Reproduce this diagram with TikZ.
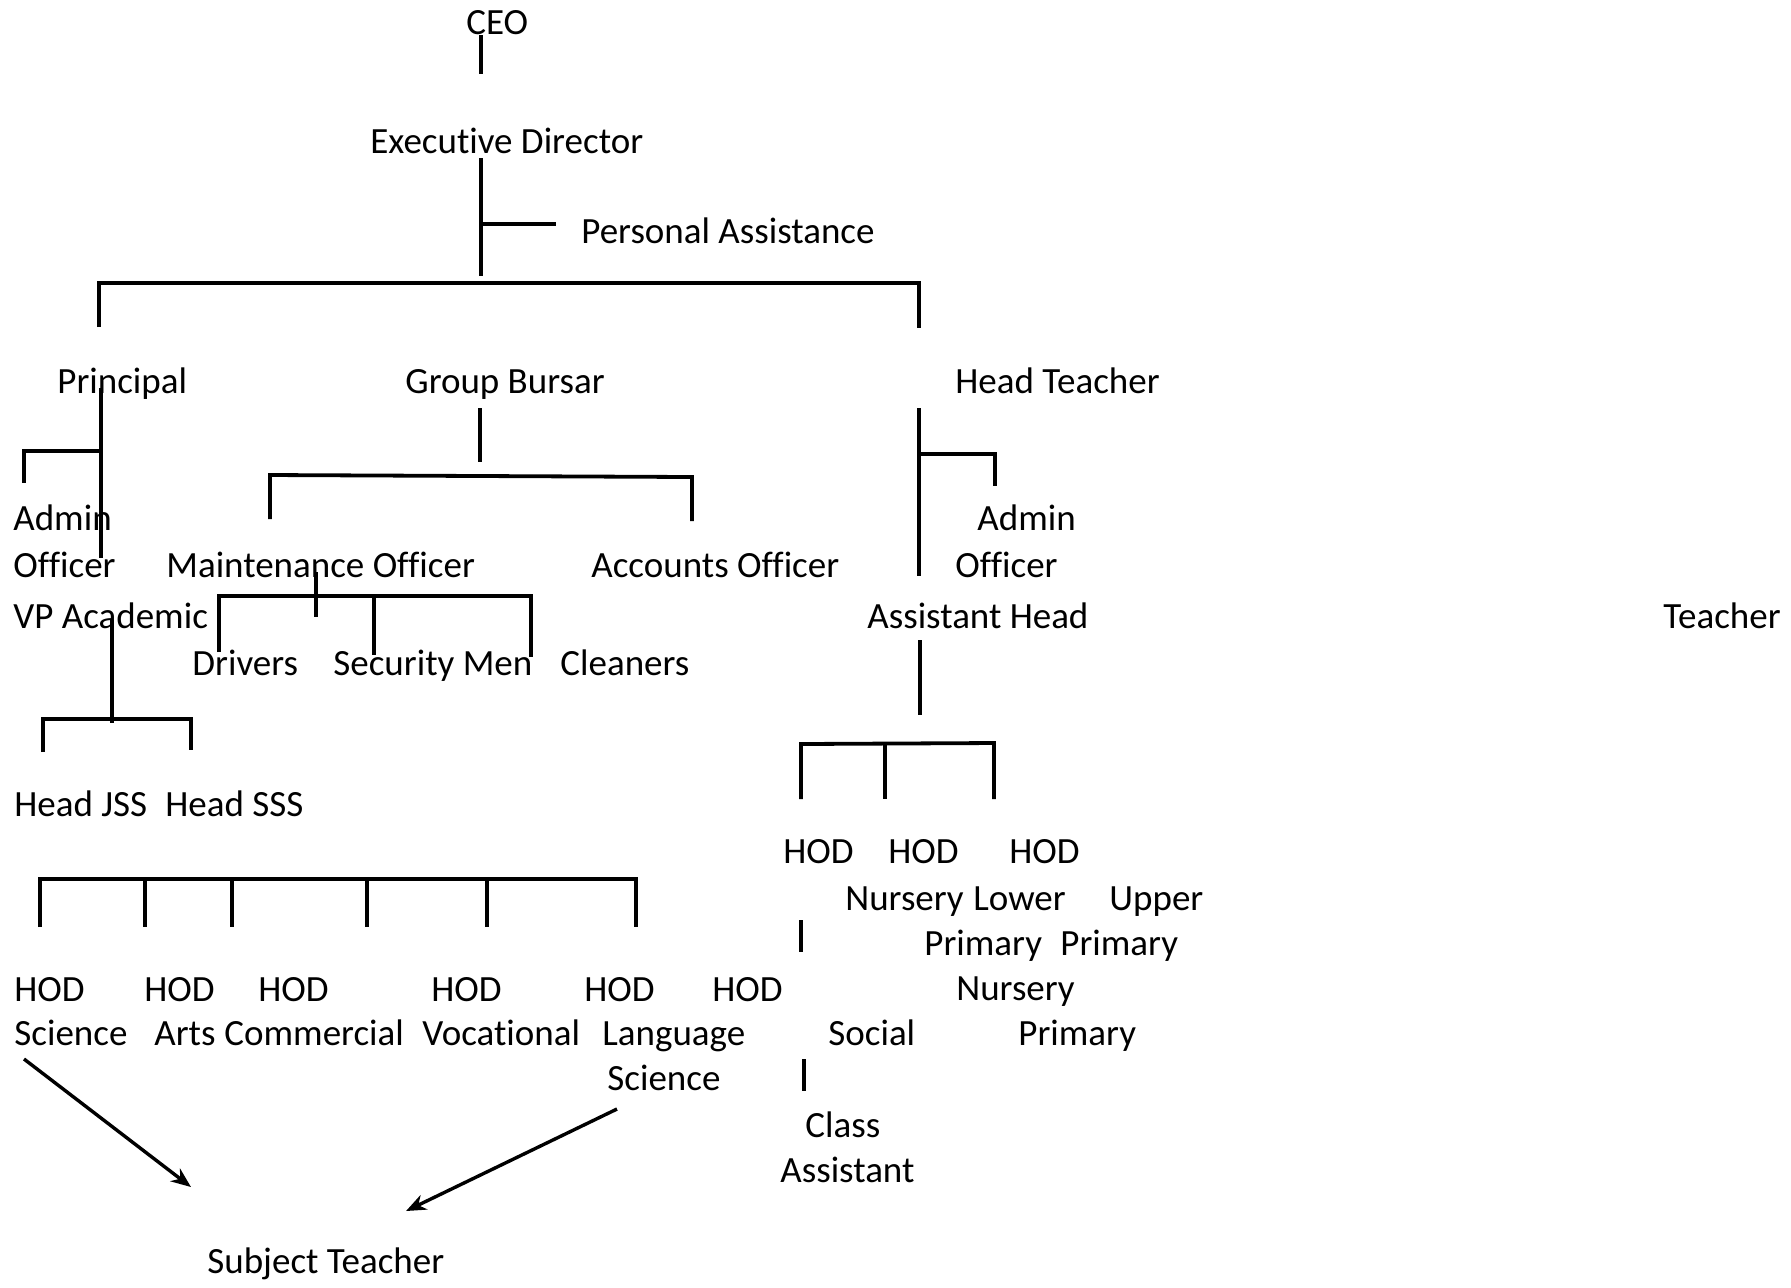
\documentclass[tikz,border=0pt]{standalone}
\usepackage{fontspec}
\setmainfont{Carlito}[Ligatures=NoCommon]
\usetikzlibrary{arrows.meta}

\tikzset{
    lbl/.style={anchor=base west,inner sep=0pt,font=\fontsize{18.5}{22}\selectfont},
    stem/.style={line width=1.7pt},
    bar/.style={line width=1.9pt}
}

\begin{document}
\begin{tikzpicture}[x=0.5pt,y=-0.5pt,>={Stealth[length=10pt,width=8pt]}]
\useasboundingbox (0,0) rectangle (1791,1287);

% top
\node[lbl] (ceo) at (466,34) {CEO};
\node[lbl] (ed) at (370,153) {Executive Director};
\node[lbl] (pa) at (581,243) {Personal Assistance};

\node[lbl] (prin) at (57,393) {Principal};
\node[lbl] (bursar) at (405,393) {Group Bursar};
\node[lbl] (headT) at (955,393) {Head Teacher};

% principal side
\node[lbl] (adminA) at (13,530) {Admin};
\node[lbl] (offA) at (13,577) {Officer};
\node[lbl] (vp) at (13,628) {VP Academic};
\node[lbl] (hjss) at (14,816) {Head JSS};
\node[lbl] (hsss) at (165,816) {Head SSS};

% bursar side
\node[lbl] (maint) at (166,577) {Maintenance Officer};
\node[lbl] (acc) at (591,577) {Accounts Officer};
\node[lbl] (drv) at (192,675) {Drivers};
\node[lbl] (sec) at (333,675) {Security Men};
\node[lbl] (cln) at (560,675) {Cleaners};

% head teacher side
\node[lbl] (adminB) at (977,530) {Admin};
\node[lbl] (offB) at (955,577) {Officer};
\node[lbl] (asst) at (867,628) {Assistant Head};
\node[lbl] (teach) at (1663,628) {Teacher};

\node[lbl] (hodN) at (783,863) {HOD};
\node[lbl] (hodL) at (888,863) {HOD};
\node[lbl] (hodU) at (1009,863) {HOD};
\node[lbl] (nurs) at (845,910) {Nursery};
\node[lbl] (lower) at (973,910) {Lower};
\node[lbl] (upper) at (1109,910) {Upper};
\node[lbl] (primL) at (924,955) {Primary};
\node[lbl] (primU) at (1060,955) {Primary};
\node[lbl] (nursB) at (956,1000) {Nursery};
\node[lbl] (primB) at (1018,1045) {Primary};
\node[lbl] (cls) at (805,1137) {Class};
\node[lbl] (clsA) at (780,1182) {Assistant};

% HOD row
\node[lbl] (hod1) at (14,1001) {HOD};
\node[lbl] (hod2) at (144,1001) {HOD};
\node[lbl] (hod3) at (258,1001) {HOD};
\node[lbl] (hod4) at (431,1001) {HOD};
\node[lbl] (hod5) at (584,1001) {HOD};
\node[lbl] (hod6) at (712,1001) {HOD};
\node[lbl] (sci) at (14,1045) {Science};
\node[lbl] (arts) at (154,1045) {Arts};
\node[lbl] (comm) at (224,1045) {Commercial};
\node[lbl] (voc) at (422,1045) {Vocational};
\node[lbl] (lang) at (602,1045) {Language};
\node[lbl] (social) at (828,1045) {Social};
\node[lbl] (sciB) at (607,1090) {Science};
\node[lbl] (subj) at (207,1273) {Subject Teacher};

% connector points
\coordinate (ceoS) at (481,35);    \coordinate (edN) at (481,74);
\coordinate (edS) at (481,158);    \coordinate (topJ) at (481,276);
\coordinate (paJ) at (481,224);    \coordinate (paW) at (556,224);
\coordinate (topL) at (99,283);    \coordinate (topR) at (919,283);
\coordinate (prinN) at (101,388);  \coordinate (prinS) at (101,558);
\coordinate (admJ) at (101,451);   \coordinate (admL) at (24,451);
\coordinate (bursN) at (480,408);  \coordinate (bursS) at (480,462);
\coordinate (bursL) at (270,475);  \coordinate (bursR) at (692,477);
\coordinate (mntN) at (316,572);   \coordinate (mntS) at (316,617);
\coordinate (mntL) at (219,596);   \coordinate (mntR) at (531,596);
\coordinate (vpN) at (112,620);    \coordinate (vpS) at (112,723);
\coordinate (vpL) at (43,719);     \coordinate (vpR) at (191,719);
\coordinate (htN) at (919,408);    \coordinate (htS) at (919,576);
\coordinate (htJ) at (919,454);    \coordinate (htR) at (995,454);
\coordinate (ahN) at (920,640);    \coordinate (ahS) at (920,715);
\coordinate (ahL) at (801,744);    \coordinate (ahR) at (994,743);
\coordinate (hodBL) at (40,879);   \coordinate (hodBR) at (636,879);

% tree lines
\draw[stem] (ceoS) -- (edN);
\draw[stem] (edS) -- (topJ);
\draw[bar] (paJ) -- (paW);
\draw[bar] (topL) ++(0,44) -- (topL) -- (topR) -- ++(0,45);

\draw[stem] (prinN) -- (prinS);
\draw[bar] (admJ) -- (admL) -- ++(0,32);

\draw[stem] (bursN) -- (bursS);
\draw[bar] (bursL) ++(0,44) -- (bursL) -- (bursR) -- ++(0,44);

\draw[stem] (mntN) -- (mntS);
\draw[bar] (mntL) ++(0,56) -- (mntL) -- (mntR) -- ++(0,61);
\draw[stem] (374,596) -- (374,655);

\draw[stem] (vpN) -- (vpS);
\draw[bar] (vpL) ++(0,33) -- (vpL) -- (vpR) -- ++(0,31);

\draw[stem] (htN) -- (htS);
\draw[bar] (htJ) -- (htR) -- ++(0,32);

\draw[stem] (ahN) -- (ahS);
\draw[bar] (ahL) ++(0,55) -- (ahL) -- (ahR) -- ++(0,56);
\draw[stem] (885,744) -- (885,799);

\draw[bar] (hodBL) ++(0,48) -- (hodBL) -- (hodBR) -- ++(0,48);
\draw[stem] (145,879) -- (145,927);
\draw[stem] (232,879) -- (232,927);
\draw[stem] (367,879) -- (367,927);
\draw[stem] (487,879) -- (487,927);

\draw[stem] (801,920) -- (801,952);
\draw[stem] (804,1059) -- (804,1091);

% arrows to subject teacher
\coordinate (sciArr) at (24,1059);   \coordinate (subjL) at (191,1187);
\coordinate (langArr) at (617,1109); \coordinate (subjR) at (406,1211);
\draw[->,stem] (sciArr) -- (subjL);
\draw[->,stem] (langArr) -- (subjR);
\end{tikzpicture}
\end{document}
